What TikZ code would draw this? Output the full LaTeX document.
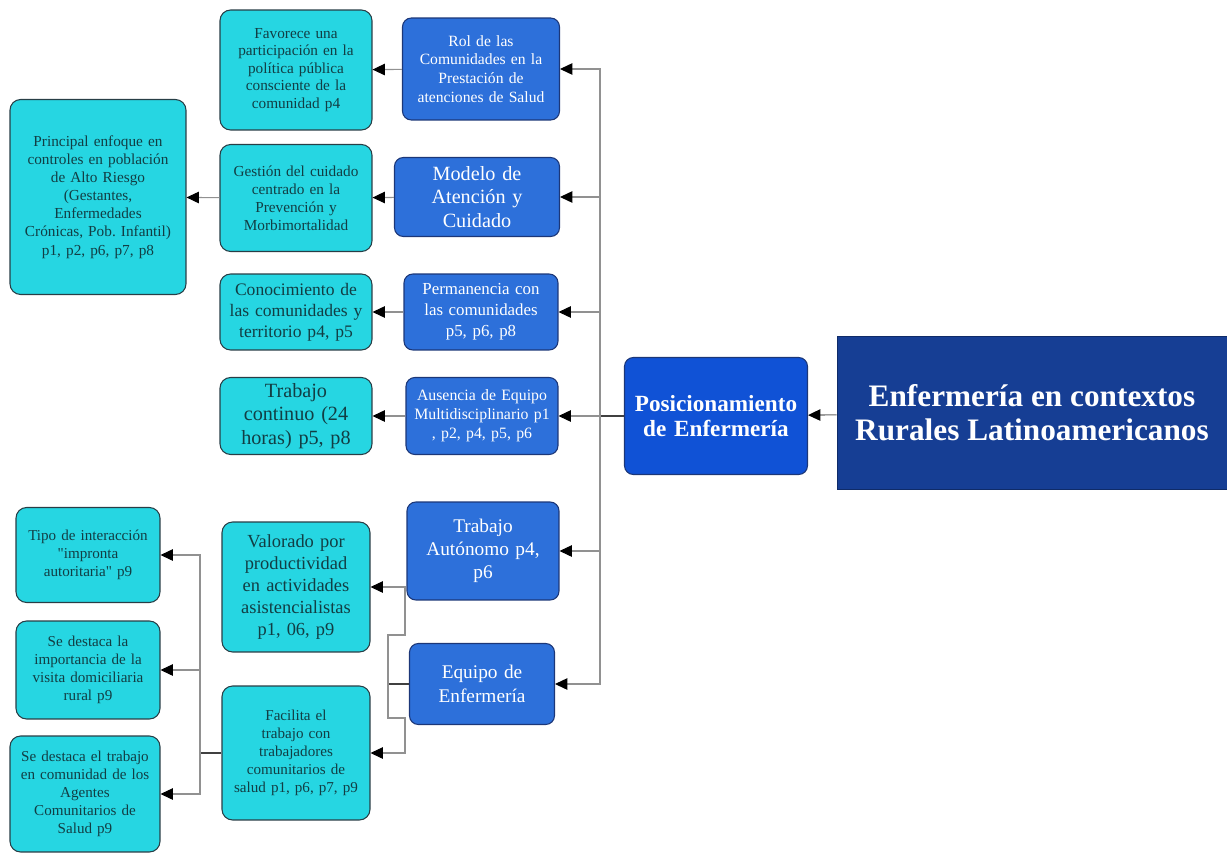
\documentclass[tikz,border=0pt]{standalone}
\usepackage{fontspec}
\setmainfont{Liberation Serif}[Ligatures=TeXOff]
\usepackage{tikz}
\usetikzlibrary{arrows.meta, positioning, calc}

\definecolor{leafcyan}{RGB}{38, 214, 226}
\definecolor{leaftext}{RGB}{18, 62, 68}
\definecolor{leafline}{RGB}{40, 62, 70}
\definecolor{topicblue}{RGB}{45, 112, 218}
\definecolor{topicline}{RGB}{28, 55, 120}
\definecolor{posblue}{RGB}{16, 82, 214}
\definecolor{titlenavy}{RGB}{22, 62, 148}
\definecolor{linegray}{RGB}{145, 145, 145}

\tikzset{
  sz/.style 2 args={text width=#1cm, minimum height=#2cm, inner xsep=0pt, inner ysep=2pt},
  leaf/.style={draw=leafline, fill=leafcyan, text=leaftext, rounded corners=6pt, align=center, line width=0.6pt},
  topic/.style={draw=topicline, fill=topicblue, text=white, rounded corners=5pt, align=center, line width=0.6pt},
  fs/.style 2 args={font=\fontsize{#1}{#2}\selectfont},
  conn/.style={draw=linegray, line width=0.6pt, -{Triangle[length=7pt, width=6.5pt, color=black]}},
  stub/.style={draw=black!75, line width=1pt},
}

\begin{document}
\begin{tikzpicture}[x=0.02cm, y=-0.02cm]
  \useasboundingbox (0,0) rectangle (1227,852);

  % Title
  \node[fill=titlenavy, draw=titlenavy!70!black, minimum width=7.8cm, minimum height=3.06cm, align=center, text=white, font=\fontsize{17.8}{19.5}\selectfont\bfseries] (title) at (1032,413) {
    Enfermería en contextos\\Rurales Latinoamericanos
  };

  % Posicionamiento
  \node[topic, fill=posblue, sz={3.66}{2.34}, font=\fontsize{13.2}{14.5}\selectfont\bfseries] (pos) at (716,416) {
    Posicionamiento\\de Enfermería
  };

  % Topics
  \node[topic, sz={3.14}{2.04}, fs={8.9}{10.7}] (rol) at (481,69) {
    Rol de las\\Comunidades en la\\Prestación de\\atenciones de Salud
  };
  \node[topic, sz={3.3}{1.58}, fs={11.5}{13.3}] (modelo) at (477,197) {
    Modelo de\\Atención y\\Cuidado
  };
  \node[topic, sz={3.08}{1.52}, fs={9.6}{12}] (perm) at (481,312) {
    Permanencia con\\las comunidades\\p5, p6, p8
  };
  \node[topic, sz={3.04}{1.54}, fs={9}{10.8}] (ausencia) at (482,416) {
    Ausencia de Equipo\\Multidisciplinario p1\\, p2, p4, p5, p6
  };
  \node[topic, sz={3.04}{1.96}, fs={11}{13.2}] (autonomo) at (483,551) {
    Trabajo\\Autónomo p4,\\p6
  };
  \node[topic, sz={2.9}{1.62}, fs={11}{13.5}] (equipo) at (482,684) {
    Equipo de\\Enfermería
  };

  % Leaves, first column
  \node[leaf, sz={3.04}{2.4}, fs={8.7}{10}] (favorece) at (296,70) {
    Favorece una\\participación en la\\política pública\\consciente de la\\comunidad p4
  };
  \node[leaf, sz={3.04}{2.14}, fs={8.7}{10.2}] (gestion) at (296,198) {
    Gestión del cuidado\\centrado en la\\Prevención y\\Morbimortalidad
  };
  \node[leaf, sz={3.04}{1.52}, fs={10}{12}] (conoc) at (296,312) {
    Conocimiento de\\las comunidades y\\territorio p4, p5
  };
  \node[leaf, sz={3.04}{1.54}, fs={11.5}{13.3}] (continuo) at (296,416) {
    Trabajo\\continuo (24\\horas) p5, p8
  };
  \node[leaf, sz={2.96}{2.6}, fs={10.5}{12.5}] (valorado) at (296,587) {
    Valorado por\\productividad\\en actividades\\asistencialistas\\p1, 06, p9
  };
  \node[leaf, sz={2.96}{2.68}, fs={8.6}{10.2}] (facilita) at (296,753) {
    Facilita el\\trabajo con\\trabajadores\\comunitarios de\\salud p1, p6, p7, p9
  };

  % Leaves, second column
  \node[leaf, sz={3.52}{3.9}, fs={8.7}{10.3}] (principal) at (98,197) {
    Principal enfoque en\\controles en población\\de Alto Riesgo\\(Gestantes,\\Enfermedades\\Crónicas, Pob.\ Infantil)\\p1, p2, p6, p7, p8
  };
  \node[leaf, sz={2.88}{1.9}, fs={8.6}{10.2}] (tipo) at (88,555) {
    Tipo de interacción\\"impronta\\autoritaria" p9
  };
  \node[leaf, sz={2.88}{1.96}, fs={8.6}{10.2}] (visita) at (88,670) {
    Se destaca la\\importancia de la\\visita domiciliaria\\rural p9
  };
  \node[leaf, sz={3.0}{2.32}, fs={8.6}{10.2}] (agentes) at (85,794) {
    Se destaca el trabajo\\en comunidad de los\\Agentes\\Comunitarios de\\Salud p9
  };

  % Connectors
  \draw[conn, draw=black!60] (title) -- (pos);

  \coordinate (bus) at (600,416);
  \draw[stub] (pos.west) -- (bus);
  \draw[conn] (bus) |- (rol.east);
  \draw[conn] (bus) |- (modelo.east);
  \draw[conn] (bus) |- (perm.east);
  \draw[conn] (bus) -- (ausencia.east);
  \draw[conn] (bus) |- (autonomo.east);
  \draw[conn] (bus) |- (equipo.east);

  \draw[conn] (rol) -- (favorece);
  \draw[conn] (modelo) -- (gestion);
  \draw[conn] (gestion) -- (principal);
  \draw[conn] (perm) -- (conoc);
  \draw[conn] (ausencia) -- (continuo);

  % Equipo de Enfermeria
  \coordinate (eqbus) at (388,684);
  \coordinate (equp) at (405,635);
  \coordinate (eqdown) at (405,718);
  \draw[stub, line width=0.8pt] (equipo.west) -- (eqbus);
  \draw[conn] (eqbus) |- (equp) |- (valorado.east);
  \draw[conn] (eqbus) |- (eqdown) |- (facilita.east);

  % Facilita
  \coordinate (fbus) at (200,753);
  \draw[stub, line width=0.8pt] (facilita.west) -- (fbus);
  \draw[conn] (fbus) |- (tipo.east);
  \draw[conn] (fbus) |- (visita.east);
  \draw[conn] (fbus) |- (agentes.east);
\end{tikzpicture}
\end{document}
